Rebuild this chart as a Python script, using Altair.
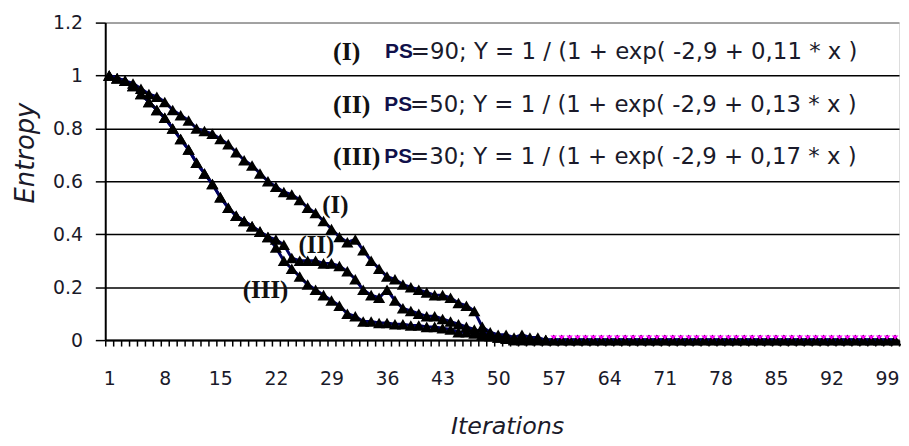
import altair as alt
import pandas as pd

iterations = list(range(1, 101))

series_I = [1.00, 0.99, 0.98, 0.97, 0.95, 0.93, 0.92, 0.90, 0.87, 0.85,
            0.83, 0.80, 0.79, 0.78, 0.76, 0.74, 0.71, 0.68, 0.66, 0.63,
            0.60, 0.58, 0.56, 0.55, 0.53, 0.50, 0.48, 0.45, 0.42, 0.39,
            0.37, 0.38, 0.34, 0.30, 0.27, 0.24, 0.23, 0.21, 0.20, 0.19,
            0.18, 0.17, 0.17, 0.16, 0.14, 0.13, 0.11, 0.05, 0.03, 0.02,
            0.02, 0.01, 0.02, 0.01, 0.01, 0.00, 0.00, 0.00, 0.00, 0.00,
            0.00, 0.00, 0.00, 0.00, 0.00, 0.00, 0.00, 0.00, 0.00, 0.00,
            0.00, 0.00, 0.00, 0.00, 0.00, 0.00, 0.00, 0.00, 0.00, 0.00,
            0.00, 0.00, 0.00, 0.00, 0.00, 0.00, 0.00, 0.00, 0.00, 0.00,
            0.00, 0.00, 0.00, 0.00, 0.00, 0.00, 0.00, 0.00, 0.00, 0.00]

series_II = [1.00, 0.99, 0.98, 0.96, 0.93, 0.90, 0.87, 0.84, 0.80, 0.76,
             0.72, 0.67, 0.63, 0.59, 0.54, 0.50, 0.47, 0.45, 0.43, 0.41,
             0.39, 0.38, 0.36, 0.31, 0.30, 0.30, 0.30, 0.29, 0.29, 0.28,
             0.26, 0.23, 0.19, 0.17, 0.16, 0.19, 0.15, 0.12, 0.11, 0.10,
             0.09, 0.09, 0.08, 0.07, 0.06, 0.05, 0.04, 0.03, 0.02, 0.01,
             0.01, 0.00, 0.00, 0.00, 0.00, 0.00, 0.00, 0.00, 0.00, 0.00,
             0.00, 0.00, 0.00, 0.00, 0.00, 0.00, 0.00, 0.00, 0.00, 0.00,
             0.00, 0.00, 0.00, 0.00, 0.00, 0.00, 0.00, 0.00, 0.00, 0.00,
             0.00, 0.00, 0.00, 0.00, 0.00, 0.00, 0.00, 0.00, 0.00, 0.00,
             0.00, 0.00, 0.00, 0.00, 0.00, 0.00, 0.00, 0.00, 0.00, 0.00]

series_III = [1.00, 0.99, 0.98, 0.96, 0.93, 0.90, 0.87, 0.84, 0.80, 0.76,
              0.72, 0.67, 0.63, 0.59, 0.54, 0.50, 0.47, 0.45, 0.43, 0.41,
              0.39, 0.35, 0.30, 0.27, 0.24, 0.21, 0.19, 0.17, 0.15, 0.13,
              0.10, 0.09, 0.07, 0.07, 0.065, 0.065, 0.06, 0.06, 0.055, 0.055,
              0.05, 0.05, 0.045, 0.04, 0.03, 0.03, 0.025, 0.02, 0.015, 0.01,
              0.005, 0.00, 0.00, 0.00, 0.00, 0.00, 0.00, 0.00, 0.00, 0.00,
              0.00, 0.00, 0.00, 0.00, 0.00, 0.00, 0.00, 0.00, 0.00, 0.00,
              0.00, 0.00, 0.00, 0.00, 0.00, 0.00, 0.00, 0.00, 0.00, 0.00,
              0.00, 0.00, 0.00, 0.00, 0.00, 0.00, 0.00, 0.00, 0.00, 0.00,
              0.00, 0.00, 0.00, 0.00, 0.00, 0.00, 0.00, 0.00, 0.00, 0.00]

series_names = ["I", "II", "III"]
line_colors = ["#000060", "#000060", "#000060"]

y_ticks = [0, 0.2, 0.4, 0.6, 0.8, 1.0, 1.2]
x_tick_bounds = [i - 0.5 for i in range(1, 102)]

# annotation rows (formula legend)
row_num = ["(I)", "(II)", "(III)"]
row_ps = ["PS", "PS", "PS"]
row_formula = ["=90; Y = 1 / (1 + exp( -2,9 +  0,11 * x )",
               "=50; Y = 1 / (1 + exp( -2,9 +  0,13 * x )",
               "=30; Y = 1 / (1 + exp( -2,9 +  0,17 * x )"]
row_y = [1.09, 0.89, 0.69]
row_num_x = [29.2, 29.2, 29.2]
row_ps_x = [35.75, 35.65, 35.65]
row_formula_x = [39.0, 38.9, 38.9]

# curve labels
curve_label = ["(I)", "(II)", "(III)"]
curve_label_x = [29.5, 27.1, 20.7]
curve_label_y = [0.51, 0.36, 0.19]

rows = []
for name, vals in zip(series_names, [series_I, series_II, series_III]):
    for it, v in zip(iterations, vals):
        rows.append({"iter": it, "entropy": v, "series": name})
df = pd.DataFrame(rows)

xscale = alt.Scale(domain=[0.5, 100.5], nice=False, zero=False)
yscale = alt.Scale(domain=[0, 1.2], nice=False)

label_expr = "((datum.value + 0.5) - 1) % 7 == 0 ? format(datum.value + 0.5, 'd') : ''"

x_axis = alt.Axis(
    values=x_tick_bounds, tickCount=300, labelExpr=label_expr, labelOffset=4,
    labelOverlap=False, labelFlush=False, labelBound=False,
    tickSize=6, tickColor="black", tickWidth=1.5,
    domainColor="black", domainWidth=2, grid=False,
    labelFont="DejaVu Sans", labelFontSize=19, labelColor="#1a1a2a",
    labelPadding=24,
    title="Iterations", titleFont="DejaVu Sans", titleFontStyle="italic",
    titleFontWeight="normal", titleFontSize=24, titleColor="#1a1a2a",
    titleX=405, titleY=87, titleBaseline="middle", titleAnchor="start", titleAlign="center",
)

y_axis = alt.Axis(
    values=y_ticks, tickCount=20, format="~g",
    tickSize=10, tickColor="black", tickWidth=1.5,
    domainColor="black", domainWidth=2,
    grid=True, gridColor={"condition": {"test": "datum.value >= 1.2", "value": "#888888"}, "value": "black"},
    gridWidth=1.5, gridOpacity=1,
    labelFont="DejaVu Sans", labelFontSize=19, labelColor="#1a1a2a", labelPadding=13,
    title="Entropy", titleFont="DejaVu Sans", titleFontStyle="italic",
    titleFontWeight="normal", titleFontSize=26, titleColor="#1a1a2a",
    titleX=-80, titleY=131, titleAngle=-90, titleBaseline="middle", titleAlign="center",
)

base = alt.Chart(df)

lines = base.mark_line(strokeWidth=3).encode(
    x=alt.X("iter:Q", scale=xscale, axis=x_axis),
    y=alt.Y("entropy:Q", scale=yscale, axis=y_axis),
    detail="series:N",
    color=alt.Color("series:N", scale=alt.Scale(domain=series_names, range=line_colors), legend=None),
)

points = base.mark_point(shape="triangle-up", filled=True, size=150, opacity=1).encode(
    x=alt.X("iter:Q", scale=xscale),
    y=alt.Y("entropy:Q", scale=yscale),
    color=alt.value("black"),
)

# magenta marker tops visible along the flat tail of series III
tail = base.transform_filter(
    (alt.datum.series == "III") & (alt.datum.iter >= 57)
).mark_point(shape="M-1,-1.4L1,-1.4L0,-0.2Z", filled=True, size=45, opacity=1).encode(
    x=alt.X("iter:Q", scale=xscale),
    y=alt.Y("entropy:Q", scale=yscale),
    color=alt.value("#FF00FF"),
)

rows_df = pd.DataFrame({"num": row_num, "ps": row_ps, "formula": row_formula,
                        "y": row_y, "nx": row_num_x, "px": row_ps_x, "fx": row_formula_x})

t_num = alt.Chart(rows_df).mark_text(font="Liberation Serif", fontWeight="bold", fontSize=26,
                                     align="left", baseline="middle", color="#111").encode(
    x=alt.X("nx:Q", scale=xscale), y=alt.Y("y:Q", scale=yscale), text="num:N")
t_ps = alt.Chart(rows_df).mark_text(font="Liberation Sans", fontWeight="bold", fontSize=21,
                                    align="left", baseline="middle", color="#10104a").encode(
    x=alt.X("px:Q", scale=xscale), y=alt.Y("y:Q", scale=yscale), text="ps:N")
t_formula = alt.Chart(rows_df).mark_text(font="DejaVu Sans", fontSize=23,
                                         align="left", baseline="middle", color="#1a1a2a").encode(
    x=alt.X("fx:Q", scale=xscale), y=alt.Y("y:Q", scale=yscale), text="formula:N")

curve_df = pd.DataFrame({"label": curve_label, "x": curve_label_x, "y": curve_label_y})
t_curve = alt.Chart(curve_df).mark_text(font="Liberation Serif", fontWeight="bold", fontSize=25,
                                        align="center", baseline="middle", color="#111").encode(
    x=alt.X("x:Q", scale=xscale), y=alt.Y("y:Q", scale=yscale), text="label:N")

chart = alt.layer(lines, points, tail, t_num, t_ps, t_formula, t_curve).properties(
    width=800, height=320,
    padding={"left": 98, "top": 13, "right": 2, "bottom": 104},
    autosize=alt.AutoSizeParams(type="none"),
).configure_view(stroke="#888888", strokeWidth=1.5).configure(background="white")

chart.save("out.html", embed_options={"renderer": "svg", "actions": False})
